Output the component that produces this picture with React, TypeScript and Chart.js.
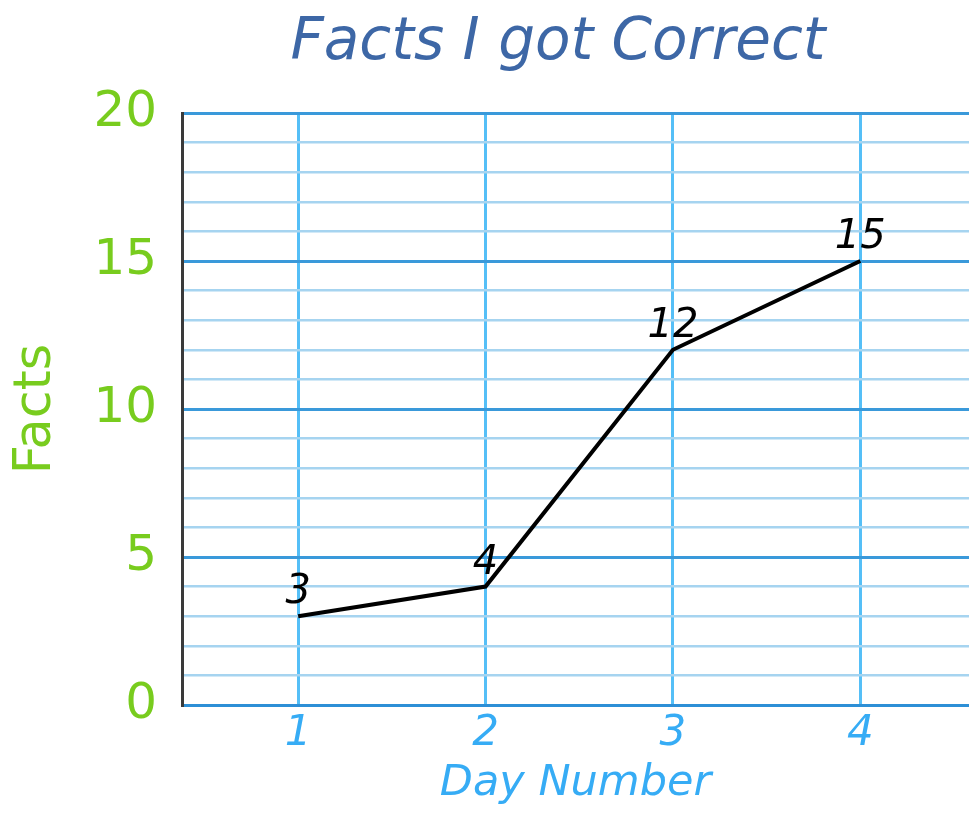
import React, { useEffect, useRef } from "react";
import { Chart, registerables } from "chart.js";

Chart.register(...registerables);

const days = [1, 2, 3, 4];
const facts = [3, 4, 12, 15];
const yTickLabels = ["0", "5", "10", "15", "20"];

const FONT = "'DejaVu Sans', Verdana, sans-serif";

const labelPlugin = {
  id: "pointLabels",
  afterDatasetsDraw(chart: any) {
    const ctx = chart.ctx;
    const meta = chart.getDatasetMeta(0);
    ctx.save();
    ctx.font = `italic 40px ${FONT}`;
    ctx.fillStyle = "#000";
    ctx.textAlign = "center";
    ctx.textBaseline = "alphabetic";
    meta.data.forEach((pt: any, i: number) => {
      ctx.fillText(String(facts[i]), pt.x, pt.y - 13);
    });
    ctx.restore();
  },
};

const titlePlugin = {
  id: "customTitle",
  afterDraw(chart: any) {
    const ctx = chart.ctx;
    ctx.save();
    ctx.font = `italic 58px ${FONT}`;
    ctx.fillStyle = "#3d67a6";
    ctx.textAlign = "center";
    ctx.textBaseline = "alphabetic";
    ctx.fillText("Facts I got Correct", 558, 59);
    ctx.restore();
  },
};

export default function App() {
  const ref = useRef<HTMLCanvasElement | null>(null);
  useEffect(() => {
    if (!ref.current) return;
    const chart = new Chart(ref.current, {
      type: "line",
      data: {
        datasets: [
          {
            data: days.map((d, i) => ({ x: d, y: facts[i] })),
            borderColor: "#000000",
            borderWidth: 4,
            pointRadius: 0,
            tension: 0,
          },
        ],
      },
      options: {
        responsive: false,
        animation: false,
        layout: { padding: { top: 113, left: 0, right: 0, bottom: 0 } },
        plugins: {
          legend: { display: false },
          tooltip: { enabled: false },
          title: { display: false },
        },
        scales: {
          x: {
            type: "linear",
            min: 0.38,
            max: 4.58,
            afterBuildTicks: (scale: any) => {
              scale.ticks = days.map((v) => ({ value: v }));
            },
            afterFit: (scale: any) => {
              scale.height = 111;
            },
            grid: {
              color: "#55bff7",
              lineWidth: 3,
              drawTicks: false,
            },
            border: { color: "#2d8fd6", width: 3 },
            ticks: {
              color: "#36acf5",
              font: { family: FONT, size: 42, style: "italic" },
              padding: 4,
              maxRotation: 0,
              autoSkip: false,
              callback: (v: any) => String(v),
            },
            title: {
              display: true,
              text: "Day Number",
              color: "#36acf5",
              font: { family: FONT, size: 43, style: "italic" },
              padding: { top: 0, bottom: 6 },
            },
          },
          y: {
            type: "linear",
            min: 0,
            max: 20,
            afterFit: (scale: any) => {
              scale.width = 182;
            },
            ticks: {
              stepSize: 1,
              autoSkip: false,
              color: "#78cc1e",
              font: { family: FONT, size: 50 },
              padding: 25,
              callback: (v: any) => {
                const s = String(v);
                return yTickLabels.includes(s) ? s : "";
              },
            },
            grid: {
              drawTicks: false,
              color: (c: any) =>
                c.tick && c.tick.value % 5 === 0 ? "#3a99da" : "#a6d4f0",
              lineWidth: (c: any) =>
                c.tick && c.tick.value % 5 === 0 ? 3 : 2.5,
            },
            border: { color: "#3a3a3a", width: 3 },
            title: {
              display: true,
              text: "Facts",
              color: "#78cc1e",
              font: { family: FONT, size: 51 },
              padding: { top: 6, bottom: 0 },
            },
          },
        },
      },
      plugins: [labelPlugin, titlePlugin],
    } as any);
    return () => chart.destroy();
  }, []);
  return (
    <div style={{ position: "absolute", left: 0, top: 0, background: "#fff" }}>
      <canvas ref={ref} width={969} height={816} />
    </div>
  );
}
